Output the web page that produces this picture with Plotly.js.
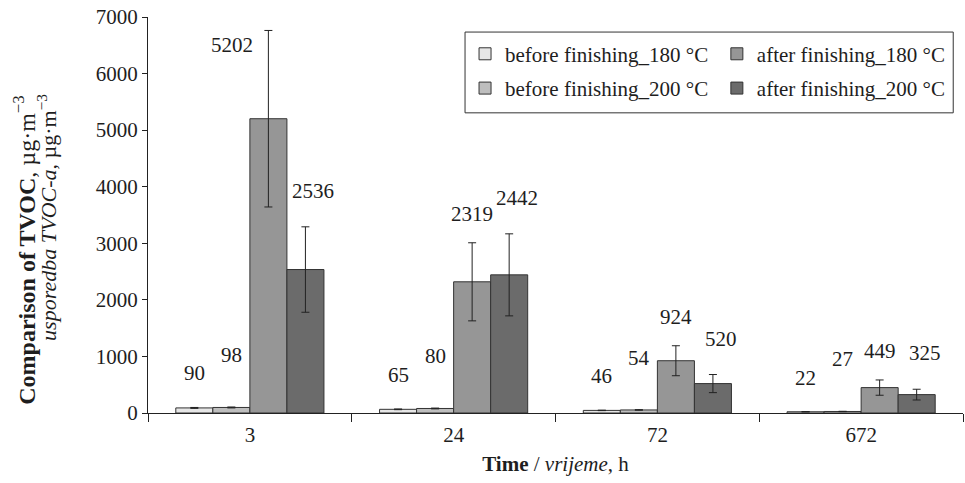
<!DOCTYPE html>
<html>
<head>
<meta charset="utf-8">
<script src="https://cdn.plot.ly/plotly-3.0.1.min.js"></script>
<style>html,body{margin:0;padding:0;background:#fff;}#chart{width:965px;height:483px;}</style>
</head>
<body>
<div id="chart"></div>
<script>
// ---- data ----
const times = ['3', '24', '72', '672'];
const seriesNames = ['before finishing_180 °C', 'before finishing_200 °C', 'after finishing_180 °C', 'after finishing_200 °C'];
const before180 = [90, 65, 46, 22];
const before200 = [98, 80, 54, 27];
const after180 = [5202, 2319, 924, 449];
const after200 = [2536, 2442, 520, 325];
const before180Err = [8, 6, 4, 3];
const before200Err = [8, 7, 5, 3];
const after180Err = [1560, 690, 265, 135];
const after200Err = [755, 725, 160, 95];
const yTicks = [0, 1000, 2000, 3000, 4000, 5000, 6000, 7000];
const yTitleLine1 = '<b>Comparison of TVOC</b>, µg·m<sup>−3</sup>';
const yTitleLine2 = '<i>usporedba TVOC-a</i>, µg·m<sup>−3</sup>';
const xTitle = '<b>Time</b> / <i>vrijeme</i>, h';

// ---- styling ----
const W = 965, H = 483;
const margin = {l: 148, r: 2, t: 17, b: 70};
const bargap = 0.273;
const yMax = 7000;
const colors = ['#e6e6e6', '#bebebe', '#969696', '#6b6b6b'];
const labelLift = [20, 38, 15, 22];
const FONT = '"Liberation Serif", "Times New Roman", serif';
const TXT = '#1e1e1e';

const values = [before180, before200, after180, after200];
const errs = [before180Err, before200Err, after180Err, after200Err];
const legendOf = ['legend', 'legend', 'legend2', 'legend2'];

const traces = values.map((v, i) => ({
  type: 'bar',
  name: seriesNames[i],
  x: times,
  y: v,
  marker: {color: colors[i], line: {color: '#333333', width: 1}},
  error_y: {type: 'data', array: errs[i], visible: true, color: '#222222', thickness: 1, width: 4},
  legend: legendOf[i],
  legendgroup: 'g' + i,
  hoverinfo: 'skip'
}));

// value labels via annotations, positioned from the bars' own scale
const plotW = W - margin.l - margin.r;
const catW = plotW / times.length;
const barW = catW * (1 - bargap) / values.length;
const annotations = [];
values.forEach((v, i) => {
  v.forEach((val, j) => {
    const top = val + errs[i][j];
    const dx = (i - (values.length - 1) / 2) * barW;
    if (top > 0.85 * yMax) {
      annotations.push({x: j, y: top, xref: 'x', yref: 'y', text: String(val), showarrow: false,
        xanchor: 'right', yanchor: 'top', xshift: dx - 13, yshift: -1,
        font: {family: FONT, size: 21, color: TXT}});
    } else {
      annotations.push({x: j, y: top, xref: 'x', yref: 'y', text: String(val), showarrow: false,
        xanchor: 'center', yanchor: 'bottom', xshift: dx + (i === 3 ? 8 : 0), yshift: labelLift[i],
        font: {family: FONT, size: 21, color: TXT}});
    }
  });
});

// y-axis title (two separately centred lines)
annotations.push({xref: 'paper', yref: 'paper', x: -0.152, y: 0.41, text: yTitleLine1, textangle: -90,
  showarrow: false, xanchor: 'center', yanchor: 'middle', font: {family: FONT, size: 24, color: TXT}});
annotations.push({xref: 'paper', yref: 'paper', x: -0.124, y: 0.495, text: yTitleLine2, textangle: -90,
  showarrow: false, xanchor: 'center', yanchor: 'middle', font: {family: FONT, size: 22, color: TXT}});

const layout = {
  width: W, height: H,
  margin: margin,
  paper_bgcolor: '#ffffff',
  plot_bgcolor: '#ffffff',
  font: {family: FONT, size: 21, color: TXT},
  barmode: 'group',
  bargap: bargap,
  bargroupgap: 0,
  showlegend: true,
  xaxis: {
    type: 'category',
    showline: true, linecolor: '#222222', linewidth: 1,
    ticks: 'outside', tickson: 'boundaries', ticklen: 8, tickcolor: '#222222',
    ticklabelstandoff: 3,
    tickfont: {family: FONT, size: 21, color: TXT},
    showgrid: false, zeroline: false,
    title: {text: xTitle, font: {family: FONT, size: 21, color: TXT}, standoff: 10}
  },
  yaxis: {
    range: [0, yMax],
    tickvals: yTicks,
    showline: true, linecolor: '#222222', linewidth: 1,
    ticks: 'outside', ticklen: 5, tickcolor: '#222222',
    tickfont: {family: FONT, size: 21, color: TXT},
    showgrid: false, zeroline: false
  },
  legend: {
    x: 0.389, xanchor: 'left', y: 0.958, yanchor: 'top',
    bgcolor: 'rgba(0,0,0,0)', borderwidth: 0,
    font: {family: FONT, size: 21, color: TXT},
    tracegroupgap: 4, itemwidth: 30, traceorder: 'grouped'
  },
  legend2: {
    x: 0.698, xanchor: 'left', y: 0.958, yanchor: 'top',
    bgcolor: 'rgba(0,0,0,0)', borderwidth: 0,
    font: {family: FONT, size: 21, color: TXT},
    tracegroupgap: 4, itemwidth: 30, traceorder: 'grouped'
  },
  shapes: [{
    type: 'rect', xref: 'paper', yref: 'paper',
    x0: 0.389, x1: 0.988, y0: 0.758, y1: 0.962,
    line: {color: '#333333', width: 1}, fillcolor: 'rgba(0,0,0,0)'
  }],
  annotations: annotations
};

Plotly.newPlot('chart', traces, layout, {displayModeBar: false, staticPlot: true});
</script>
</body>
</html>
